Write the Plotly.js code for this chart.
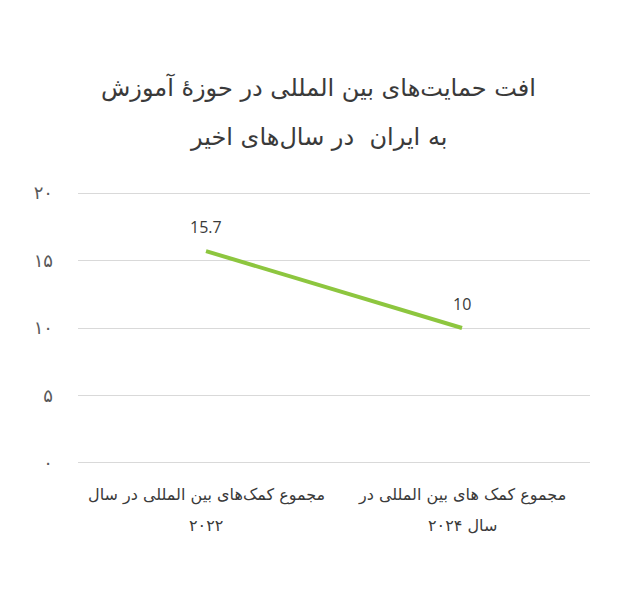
<!DOCTYPE html>
<html><head><meta charset="utf-8">
<script src="https://cdn.plot.ly/plotly-3.0.1.min.js"></script>
<style>html,body{margin:0;padding:0;background:#fff}#chart{width:625px;height:590px}</style>
</head><body><div id="chart"></div>
<script>
const titleLines = ["افت حمایت‌های بین المللی در حوزهٔ آموزش", "به ایران  در سال‌های اخیر"];
const categories = ["مجموع کمک‌های بین المللی در سال\n۲۰۲۲", "مجموع کمک های بین المللی در\nسال ۲۰۲۴"];
const values = [15.7, 10];
const valueLabels = ["15.7", "10"];
const yTickVals = [0, 5, 10, 15, 20];
const yTickText = ["۰", "۵", "۱۰", "۱۵", "۲۰"];

const FONT = "DejaVu Sans, Noto Sans, sans-serif";
const idx = categories.map((c, i) => i);

// plot area: 278px tall for range [-0.3, 20.3] (13.5 px per unit)
const PH = 278, Y0PX = 463;
const py = px => (Y0PX + 4 - px) / PH; // paper y from pixel y

const annotations = [];
titleLines.forEach((t, i) => {
  annotations.push({text: t, xref: "paper", yref: "paper", x: 0.47, y: py(i === 0 ? 87 : 137),
    xanchor: "center", yanchor: "middle", showarrow: false, font: {family: FONT, size: 24, color: "#3a3a3a"}});
});
categories.forEach((c, i) => {
  c.split("\n").forEach((line, j) => {
    annotations.push({text: line, xref: "x", yref: "paper", x: i, y: py(j === 0 ? 495 : 525),
      xanchor: "center", yanchor: "middle", showarrow: false, font: {family: FONT, size: 16, color: "#3a3a3a"}});
  });
});
values.forEach((v, i) => {
  annotations.push({text: valueLabels[i], xref: "x", yref: "y", x: idx[i], y: v, yshift: 24,
    xanchor: "center", yanchor: "middle", showarrow: false,
    font: {family: "Open Sans, Liberation Sans, sans-serif", size: 16, color: "#3a3a3a"}});
});

const trace = {
  x: idx, y: values, type: "scatter", mode: "lines",
  line: {color: "#8dc63f", width: 4}, hoverinfo: "skip", cliponaxis: false
};

const layout = {
  width: 625, height: 590,
  margin: {l: 78, r: 35, t: 189, b: 123},
  paper_bgcolor: "#fff", plot_bgcolor: "#fff",
  showlegend: false,
  xaxis: {range: [-0.5, 1.5], showticklabels: false, showgrid: false, zeroline: false, showline: false, fixedrange: true},
  yaxis: {range: [-0.3, 20.3], tickvals: yTickVals, ticktext: yTickText, showgrid: true, gridcolor: "#d9d9d9", gridwidth: 1,
    zeroline: false, showline: false, ticks: "", ticklabelstandoff: 24,
    tickfont: {family: FONT, size: 18, color: "#595959"}, fixedrange: true},
  annotations: annotations
};
Plotly.newPlot("chart", [trace], layout, {displayModeBar: false, staticPlot: true});
</script></body></html>
